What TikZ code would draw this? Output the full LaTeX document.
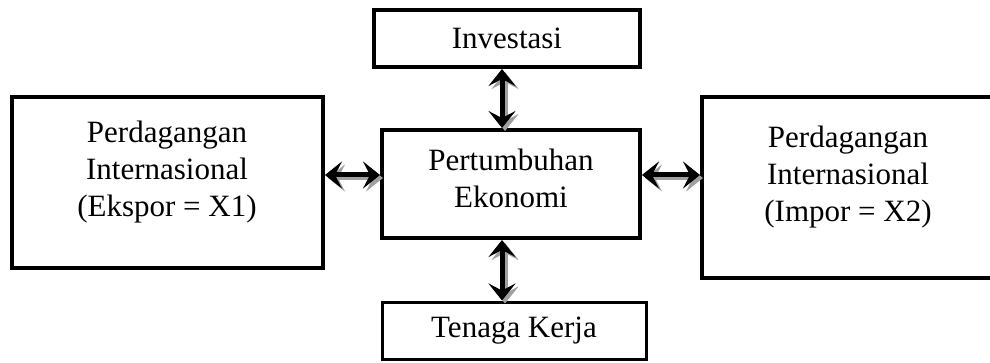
\documentclass[tikz,border=0pt]{standalone}
\usepackage{fontspec}
\setmainfont{Liberation Serif}
\usetikzlibrary{arrows.meta, positioning}
\definecolor{shade}{HTML}{A0A0A0}

\begin{document}
\begin{tikzpicture}[
    x=1pt, y=1pt,
    font=\fontsize{31}{37}\selectfont,
    box/.style={rectangle, draw=black, line width=4pt, inner sep=0pt, align=center},
    txt/.style={align=center, inner sep=0pt},
    link/.style={line width=5pt, {Stealth[length=17pt, width=27pt, inset=7pt]}-{Stealth[length=17pt, width=27pt, inset=7pt]}},
    linkshade/.style={link, draw=shade, transform canvas={shift={(3,-3)}}},
]
\useasboundingbox (0,0) rectangle (990,-363);

% Boxes
\node[box, minimum width=311, minimum height=171] (ekspor) at (167.5,-182.5) {};
\node[box, minimum width=258, minimum height=108] (pertumbuhan) at (511,-184) {};
\node[box, minimum width=291, minimum height=181] (impor) at (847.5,-187.5) {};
\node[box, minimum width=266, minimum height=57] (investasi) at (507,-38.5) {Investasi};
\node[box, line width=3pt, minimum width=264, minimum height=57] (tenaga) at (514,-330.5) {Tenaga Kerja};

% Texts
\node[txt] (eksportxt) at (167,-172) {Perdagangan\\Internasional\\(Ekspor = X1)};
\node[txt] (pertumbuhantxt) at (511,-178) {Pertumbuhan\\Ekonomi};
\node[txt] (importxt) at (848,-177) {Perdagangan\\Internasional\\(Impor = X2)};

% Connector ends
\coordinate (wpt) at ([yshift=9]pertumbuhan.west);
\coordinate (ept) at ([yshift=9]pertumbuhan.east);
\coordinate (npt) at ([xshift=-9]pertumbuhan.north);
\coordinate (spt) at ([xshift=-9]pertumbuhan.south);

% Arrows (shadow first)
\draw[linkshade] (ekspor.east |- wpt) -- (wpt);
\draw[linkshade] (ept) -- (impor.west |- ept);
\draw[linkshade] (investasi.south -| npt) -- (npt);
\draw[linkshade] (spt) -- (tenaga.north -| spt);

\draw[link] (ekspor.east |- wpt) -- (wpt);
\draw[link] (ept) -- (impor.west |- ept);
\draw[link] (investasi.south -| npt) -- (npt);
\draw[link] (spt) -- (tenaga.north -| spt);

\end{tikzpicture}
\end{document}
